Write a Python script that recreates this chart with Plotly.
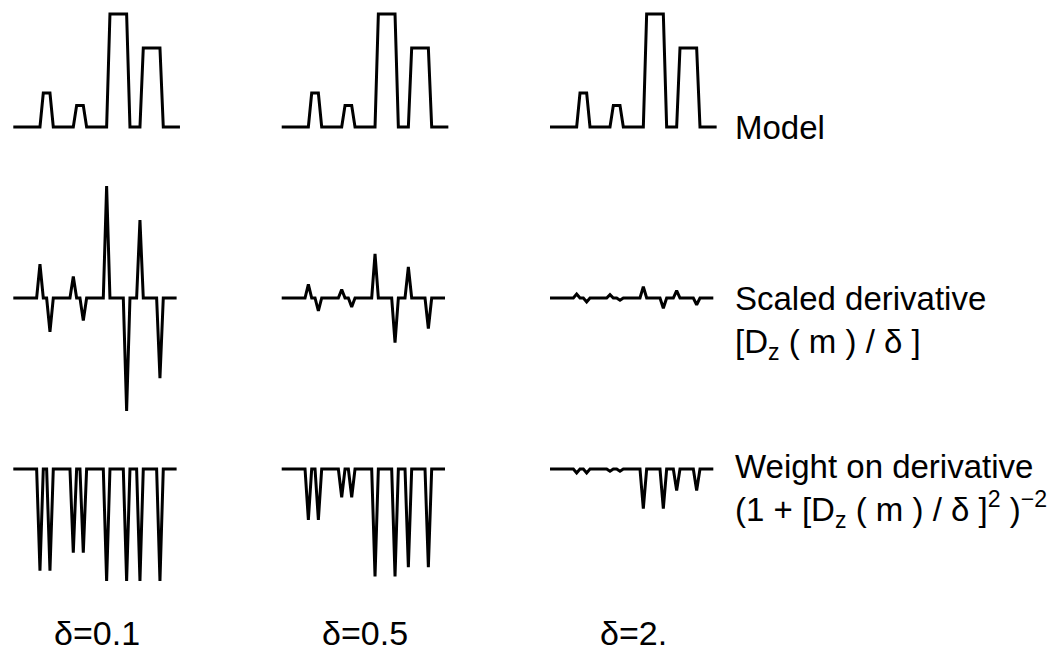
import plotly.graph_objects as go

W, H = 1064, 656

# ---------------- data ----------------
model_index = list(range(51))
model = [0, 0, 0, 0, 0, 0, 0, 0, 0,
         0.30, 0.30, 0.30,
         0, 0, 0, 0, 0, 0, 0,
         0.19, 0.19, 0.19,
         0, 0, 0, 0, 0, 0, 0,
         1.0, 1.0, 1.0, 1.0, 1.0, 1.0,
         0, 0, 0, 0,
         0.70, 0.70, 0.70, 0.70, 0.70, 0.70,
         0, 0, 0, 0, 0, 0]

deriv_index = list(range(50))
spike_index = [8, 11, 18, 21, 28, 34, 38, 44]

# scaled derivative at the spike positions (zero elsewhere)
deriv_d01 = [0.30, -0.30, 0.19, -0.20, 0.99, -1.00, 0.69, -0.71]
deriv_d05 = [0.12, -0.115, 0.075, -0.08, 0.39, -0.395, 0.275, -0.27]
deriv_d2 = [0.035, -0.035, 0.03, -0.02, 0.10, -0.09, 0.065, -0.06]

# weight on derivative at the spike positions (one elsewhere)
weight_d01 = [0.10, 0.10, 0.26, 0.26, 0.01, 0.01, 0.01, 0.01]
weight_d05 = [0.55, 0.55, 0.75, 0.75, 0.05, 0.05, 0.13, 0.13]
weight_d2 = [0.965, 0.965, 0.98, 0.98, 0.65, 0.65, 0.81, 0.81]

delta_labels = ["δ=0.1", "δ=0.5", "δ=2."]
row_labels = [
    "Model",
    "Scaled derivative<br>[D<sub>z</sub> ( m ) / δ ]",
    "Weight on derivative<br>(1 + [D<sub>z</sub> ( m ) / δ ]<sup>2</sup> )<sup>−2</sup>",
]


def fill(base, vals):
    s = [base] * len(deriv_index)
    for i, v in zip(spike_index, vals):
        s[i] = v
    return s


rows = [
    [model, model, model],
    [fill(0.0, deriv_d01), fill(0.0, deriv_d05), fill(0.0, deriv_d2)],
    [fill(1.0, weight_d01), fill(1.0, weight_d05), fill(1.0, weight_d2)],
]
row_x = [model_index, deriv_index, deriv_index]

# ---------------- layout geometry ----------------
unit_x = 3.333          # px per sample
col_start = [13.3, 281.7, 550.0]
x_range = [-2, 52]
unit_y = 113.0          # px per unit value
row_geom = [
    (127.0, 0.0, [-0.15, 1.1]),   # baseline px, value at baseline, range
    (298.0, 0.0, [-1.15, 1.12]),
    (469.0, 1.0, [-0.1, 1.1]),
]

fig = go.Figure()
layout = {}
for r in range(3):
    base_px, base_val, yr = row_geom[r]
    top_px = base_px - (yr[1] - base_val) * unit_y
    bot_px = base_px + (base_val - yr[0]) * unit_y
    for c in range(3):
        k = r * 3 + c + 1
        x0 = col_start[c] + x_range[0] * unit_x
        x1 = col_start[c] + x_range[1] * unit_x
        sx = "" if k == 1 else str(k)
        layout["xaxis" + sx] = dict(domain=[x0 / W, x1 / W], range=x_range,
                                    visible=False, anchor="y" + sx, fixedrange=True)
        layout["yaxis" + sx] = dict(domain=[1 - bot_px / H, 1 - top_px / H], range=yr,
                                    visible=False, anchor="x" + sx, fixedrange=True)
        fig.add_trace(go.Scatter(
            x=row_x[r], y=rows[r][c], mode="lines",
            line=dict(color="black", width=3),
            xaxis="x" + sx, yaxis="y" + sx,
            showlegend=False, hoverinfo="skip"))

font = dict(family="Liberation Sans, Arial, sans-serif", size=33, color="black")
font_bottom = dict(family="Liberation Sans, Arial, sans-serif", size=34, color="black")
annotations = []
label_y = [128, 322, 490]
for r in range(3):
    annotations.append(dict(
        text=row_labels[r], x=733 / W, y=1 - label_y[r] / H,
        xref="paper", yref="paper", xanchor="left", yanchor="middle",
        align="left", showarrow=False, font=font))
for c in range(3):
    k = 7 + c
    annotations.append(dict(
        text=delta_labels[c], x=0.5, y=1 - 633 / H,
        xref="x%d domain" % k, yref="paper", xanchor="center", yanchor="middle",
        showarrow=False, font=font_bottom))

fig.update_layout(
    width=W, height=H,
    margin=dict(l=0, r=0, t=0, b=0),
    paper_bgcolor="white", plot_bgcolor="white",
    annotations=annotations,
    **layout)

fig.write_html("out.html")
